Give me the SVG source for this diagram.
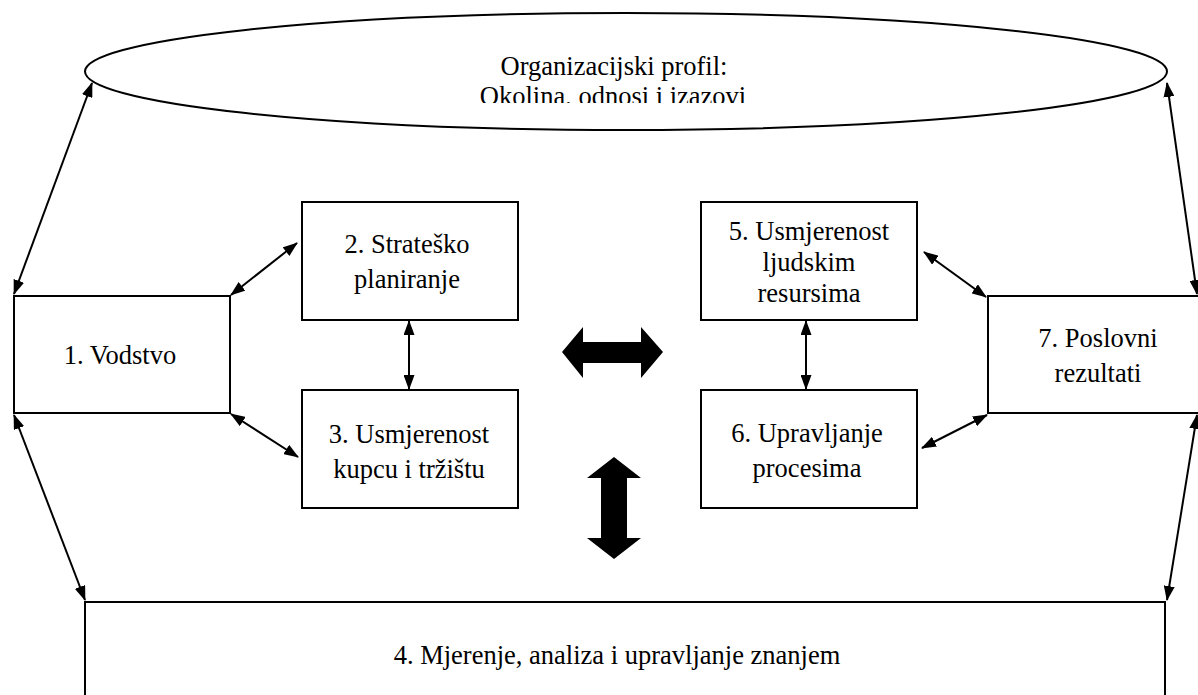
<svg xmlns="http://www.w3.org/2000/svg" width="1198" height="695" viewBox="0 0 1198 695">
<style>
.box{fill:#fff;stroke:#000;stroke-width:2}
.lbl{font-family:"Liberation Serif","Times New Roman",serif;font-size:26.5px;fill:#000;text-anchor:middle}
.con{stroke:#000;stroke-width:2;fill:none;marker-start:url(#ah);marker-end:url(#ah)}
.blk{fill:#000;stroke:none}
</style>
<defs>
<marker id="ah" markerUnits="userSpaceOnUse" markerWidth="15" markerHeight="11" viewBox="0 0 15 11" refX="14" refY="5.5" orient="auto-start-reverse">
<path d="M0,0 L15,5.5 L0,11 z" fill="#000"/>
</marker>
<clipPath id="ellclip"><rect x="0" y="0" width="1198" height="103"/></clipPath>
</defs>
<rect width="1198" height="695" fill="#fff"/>

<g id="profil">
<ellipse cx="626" cy="71.5" rx="541" ry="58.5" class="box"/>
<g clip-path="url(#ellclip)">
<text class="lbl" x="614" y="75">Organizacijski profil:</text>
<text class="lbl" x="613" y="105">Okolina, odnosi i izazovi</text>
</g>
</g>

<g id="n1">
<rect class="box" x="14" y="296" width="216" height="117"/>
<text class="lbl" x="120" y="364">1. Vodstvo</text>
</g>
<g id="n2">
<rect class="box" x="302" y="202" width="216" height="118"/>
<text class="lbl" x="407" y="253">2. Strateško</text>
<text class="lbl" x="407" y="288">planiranje</text>
</g>
<g id="n3">
<rect class="box" x="302" y="390" width="216" height="118"/>
<text class="lbl" x="409" y="443">3. Usmjerenost</text>
<text class="lbl" x="409" y="478">kupcu i tržištu</text>
</g>
<g id="n5">
<rect class="box" x="701" y="202" width="216" height="118"/>
<text class="lbl" x="809" y="240">5. Usmjerenost</text>
<text class="lbl" x="809" y="271">ljudskim</text>
<text class="lbl" x="809" y="302">resursima</text>
</g>
<g id="n6">
<rect class="box" x="701" y="390" width="216" height="118"/>
<text class="lbl" x="807" y="442">6. Upravljanje</text>
<text class="lbl" x="807" y="477">procesima</text>
</g>
<g id="n7">
<rect class="box" x="988" y="296" width="230" height="117"/>
<text class="lbl" x="1098" y="347">7. Poslovni</text>
<text class="lbl" x="1098" y="382">rezultati</text>
</g>
<g id="n4">
<rect class="box" x="85" y="602" width="1080" height="130"/>
<text class="lbl" x="617" y="664">4. Mjerenje, analiza i upravljanje znanjem</text>
</g>

<g id="connectors">
<line class="con" x1="92" y1="83" x2="14" y2="294"/>
<line class="con" x1="14" y1="415" x2="85" y2="600"/>
<line class="con" x1="1167" y1="83" x2="1197" y2="294"/>
<line class="con" x1="1197" y1="415" x2="1167" y2="600"/>
<line class="con" x1="231" y1="295" x2="297" y2="243"/>
<line class="con" x1="231" y1="414" x2="298" y2="457"/>
<line class="con" x1="409" y1="321" x2="409" y2="389"/>
<line class="con" x1="924" y1="252" x2="986" y2="297"/>
<line class="con" x1="922" y1="448" x2="987" y2="415"/>
<line class="con" x1="806" y1="321" x2="806" y2="389"/>
<polygon class="blk" points="562,352 583,327 583,342 641,342 641,327 663,352 641,378 641,363 583,363 583,378"/>
<polygon class="blk" points="614,457 641,478 627,478 627,538 641,538 614,559 587,538 601,538 601,478 587,478"/>
</g>
</svg>
